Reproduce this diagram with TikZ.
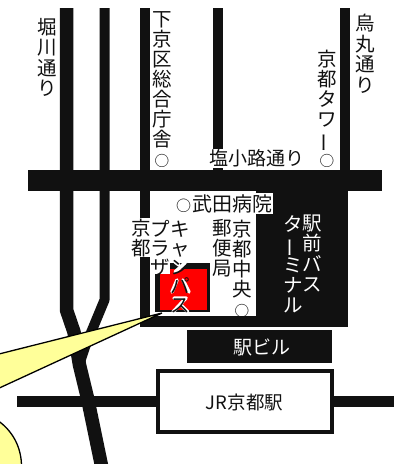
\documentclass[tikz,border=0pt]{standalone}
\usepackage{fontspec}
\setmainfont{Noto Sans CJK JP}
\definecolor{ink}{HTML}{111111}
\definecolor{bubble}{HTML}{FFFF99}
\definecolor{busred}{HTML}{FF0000}
\newcommand{\chobar}{\rotatebox[origin=c]{90}{ー}}
\newcommand{\maru}{\makebox[.85em]{\scalebox{.75}{○}}}
\tikzset{
  x=1pt,y=-1pt,
  road/.style={draw=ink,line width=10pt,line cap=butt,line join=round},
  wideroad/.style={road,line width=13.5pt},
  halo/.style={draw=white,line width=3.5pt,line cap=round,line join=round},
  callout/.style={fill=bubble,draw=black,line width=1.3pt,line join=miter},
  label/.style={inner sep=0pt,outer sep=0pt,font=\fontsize{19.5}{20}\selectfont,text=ink},
  vlabel/.style={label,align=center},
  vlabelwide/.style={vlabel,font=\fontsize{19.5}{20.5}\selectfont},
  vlabeltight/.style={vlabel,font=\fontsize{19.5}{19}\selectfont},
  whitelabel/.style={text=white},
}
\begin{document}
\begin{tikzpicture}
\useasboundingbox (0,0) rectangle (400,464);
\fill[white] (0,0) rectangle (400,464);
% roads
\draw[wideroad] (66.5,8) -- (66.5,310) -- (74,332) -- (79.5,365) -- (87.5,398) -- (102,468);
\draw[road] (104.5,8) -- (104.5,300) -- (85,347) -- (80,362);
\draw[road] (145,8) -- (145,320);
\draw[road] (218,8) -- (218,175);
\draw[road] (345,8) -- (345,175);
\fill[ink] (28,170) rectangle (382,191);
% terminal block with its white court
\fill[ink] (140,191) rectangle (348,327);
\fill[white] (150,191) rectangle (256,316);
% station building, rails, station
\fill[ink] (187,330) rectangle (332,363);
\draw[ink,line width=11pt] (17,401.5) -- (394,401.5);
\draw[ink,fill=white,line width=4.5pt] (158.2,371.2) rectangle (331.8,431.8);
% red bus box
\fill[ink] (155,263) rectangle (210,312);
\fill[busred] (160,268.5) rectangle (207,310);
\fill[white] (151,220) rectangle (170,273.5);
\fill[white] (131,218) rectangle (150,257);
\draw[halo] (175,262) -- (179,265);
\draw[halo] (175,272) -- (187,261);
\draw[halo] (177,280) -- (172,292);
\draw[halo] (183,280) -- (189,292);
\draw[halo] (174,298) -- (186,298) -- (173,312);
\draw[halo] (181,305) -- (188,312);
% callout
\draw[callout] (162,313) -- (-5,355) -- (-5,390) -- cycle;
\draw[callout] (-3,420) .. controls (12,430) and (22,447) .. (21.5,468) -- (-3,468) -- cycle;
% labels
\node[vlabelwide] (horikawa) at (47,57.5) {堀\\川\\通\\り};
\node[vlabel] (shimogyo) at (162,90) {下\\京\\区\\総\\合\\庁\\舎\\\maru};
\node[vlabel] (tower) at (327,109) {京\\都\\タ\\ワ\\\chobar\\\maru};
\node[vlabelwide] (karasuma) at (365,54) {烏\\丸\\通\\り};
\node[label,fill=white,inner sep=1pt,font=\fontsize{19}{20}\selectfont] (shiokoji) at (256.5,158.5) {塩小路通り};
\node[label,fill=white,inner sep=1pt,font=\fontsize{20}{20}\selectfont] (takeda) at (223.5,203.5) {\maru 武田病院};
\node[vlabel] (kyoto) at (141,238.5) {京\\都};
\node[vlabeltight] (plaza) at (160,248) {プ\\ラ\\ザ};
\node[vlabeltight] (campus) at (180,267.5) {キ\\ャ\\ン\\パ\\ス};
\node[vlabel] (post) at (222,248) {郵\\便\\局};
\node[vlabel] (chuo) at (242,268.5) {京\\都\\中\\央\\\maru};
\node[vlabelwide,whitelabel] (ekimae) at (312,253.5) {駅\\前\\バ\\ス};
\node[vlabel,whitelabel] (terminal) at (293,264.5) {タ\\\chobar\\ミ\\ナ\\ル};
\node[label,whitelabel,font=\fontsize{19}{20}\selectfont] (ekibiru) at (262,347) {駅ビル};
\node[label,font=\fontsize{18.5}{20}\selectfont] (jr) at (244.5,402) {JR京都駅};
\end{tikzpicture}
\end{document}
